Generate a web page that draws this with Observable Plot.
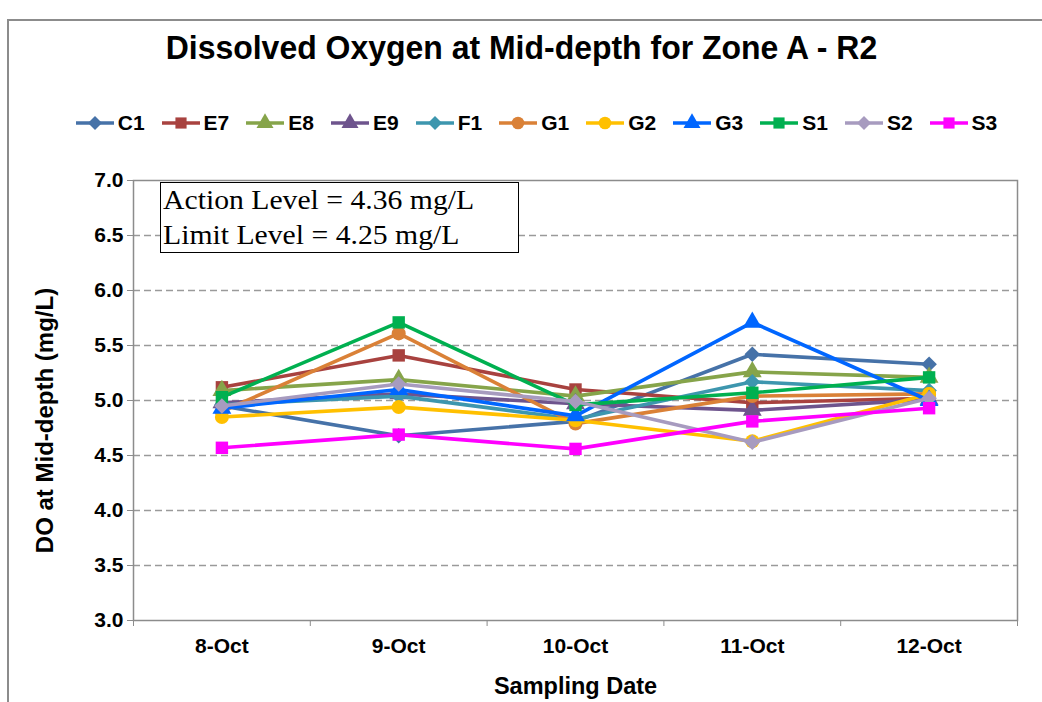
<!DOCTYPE html>
<html>
<head>
<meta charset="utf-8">
<script src="https://cdn.jsdelivr.net/npm/d3@7"></script>
<script src="https://cdn.jsdelivr.net/npm/@observablehq/plot@0.6"></script>
<style>
  html, body { margin: 0; padding: 0; background: #fff; }
  #wrap { position: relative; width: 1042px; height: 702px; overflow: hidden; background: #fff;
          font-family: "Liberation Sans", Arial, sans-serif; color: #000; }
  #outer { position: absolute; left: 7px; top: 19px; width: 1200px; height: 900px;
           border-left: 2px solid #8c8c8c; border-top: 2px solid #8c8c8c; pointer-events: none; }
  #title { height: 95px; line-height: 94px; text-align: center; font-size: 34px; font-weight: bold; }
  #title span { display: inline-block; transform: scaleX(0.94); transform-origin: center; }
  #legend { height: 55px; display: flex; align-items: center; justify-content: center; padding-left: 46px;
            font-size: 21px; font-weight: bold; }
  .item { display: flex; align-items: center; margin-right: 16px; }
  .item svg { margin-right: 3px; }
  #box { position: absolute; left: 160px; top: 182px; width: 359px; height: 71px; box-sizing: border-box;
         border: 1.5px solid #000; background: #fff; font-family: "Liberation Serif", "DejaVu Serif", serif;
         font-size: 27px; line-height: 35px; padding-left: 2px; padding-top: 0px; white-space: nowrap; }
  #box div { transform: scaleX(1.1); transform-origin: left center; }
</style>
</head>
<body>
<div id="wrap">
  <div id="title"><span></span></div>
  <div id="legend"></div>
  <div id="chart"></div>
  <div id="box"></div>
  <div id="outer"></div>
</div>
<script>
const titleText = "Dissolved Oxygen at Mid-depth for Zone A - R2";
const xLabel = "Sampling Date";
const yLabel = "DO at Mid-depth (mg/L)";
const boxLines = ["Action Level = 4.36 mg/L", "Limit Level = 4.25 mg/L"];

const dates = ["8-Oct", "9-Oct", "10-Oct", "11-Oct", "12-Oct"];
const seriesNames = ["C1", "E7", "E8", "E9", "F1", "G1", "G2", "G3", "S1", "S2", "S3"];
const C1 = [4.95, 4.68, 4.81, 5.42, 5.33];
const E7 = [5.12, 5.41, 5.10, 4.98, 5.02];
const E8 = [5.09, 5.19, 5.04, 5.26, 5.21];
const E9 = [4.98, 5.06, 4.97, 4.91, 5.01];
const F1 = [4.96, 5.04, 4.83, 5.17, 5.09];
const G1 = [4.90, 5.61, 4.79, 5.04, 5.06];
const G2 = [4.85, 4.94, 4.82, 4.63, 5.06];
const G3 = [4.93, 5.10, 4.86, 5.71, 5.00];
const S1 = [5.03, 5.71, 4.96, 5.07, 5.21];
const S2 = [4.95, 5.15, 4.99, 4.62, 5.02];
const S3 = [4.57, 4.69, 4.56, 4.81, 4.93];
const seriesValues = [C1, E7, E8, E9, F1, G1, G2, G3, S1, S2, S3];
const seriesColors = ["#4672A8", "#A8423F", "#86A44A", "#6E548D", "#3D96AE", "#DA8137",
                      "#FFC000", "#0066FF", "#00B050", "#A79BBF", "#FF00FF"];
const seriesSymbols = ["diamond2", "square", "triangle", "triangle", "diamond2", "circle",
                       "circle", "triangle", "square", "diamond2", "square"];
const yTicks = [3.0, 3.5, 4.0, 4.5, 5.0, 5.5, 6.0, 6.5, 7.0];
const yGrid = [3.5, 4.0, 4.5, 5.0, 5.5, 6.0, 6.5];

// title
document.querySelector("#title span").textContent = titleText;
// box
const box = document.getElementById("box");
boxLines.forEach(t => { const d = document.createElement("div"); d.textContent = t; box.appendChild(d); });

// legend
const legend = document.getElementById("legend");
const symGen = { diamond2: d3.symbolDiamond2, square: d3.symbolSquare, triangle: d3.symbolTriangle, circle: d3.symbolCircle };
seriesNames.forEach((s, i) => {
  const item = document.createElement("div");
  item.className = "item";
  const svg = d3.create("svg").attr("width", 40).attr("height", 20);
  svg.append("line").attr("x1", 1).attr("x2", 39).attr("y1", 10).attr("y2", 10)
     .attr("stroke", seriesColors[i]).attr("stroke-width", 3.5);
  svg.append("path").attr("transform", "translate(20,10)")
     .attr("d", d3.symbol(symGen[seriesSymbols[i]], Math.PI * 6.3 * 6.3)())
     .attr("fill", seriesColors[i]);
  item.appendChild(svg.node());
  const t = document.createElement("span");
  t.textContent = s;
  item.appendChild(t);
  legend.appendChild(item);
});

const rows = seriesNames.flatMap((s, i) => seriesValues[i].map((v, j) => ({ series: s, idx: j + 1, value: v })));

const seriesMarks = seriesNames.flatMap(s => {
  const d = rows.filter(r => r.series === s);
  return [
    Plot.line(d, { x: "idx", y: "value", stroke: "series", strokeWidth: 3.6 }),
    Plot.dot(d, { x: "idx", y: "value", fill: "series", symbol: "series", r: 7, stroke: "none" })
  ];
});

const chart = Plot.plot({
  width: 1042,
  height: 552,
  marginTop: 30,
  marginBottom: 82,
  marginLeft: 133,
  marginRight: 25,
  x: { type: "linear", domain: [0.5, 5.5], axis: null },
  y: { domain: [3, 7], axis: null },
  color: { domain: seriesNames, range: seriesColors },
  symbol: { domain: seriesNames, range: seriesSymbols },
  style: { fontFamily: "'Liberation Sans', Arial, sans-serif", fontWeight: "bold", fontSize: "20px", color: "#000", background: "#fff", overflow: "visible" },
  marks: [
    Plot.gridY(yGrid, { stroke: "#9a9a9a", strokeOpacity: 1, strokeWidth: 1.5, strokeDasharray: "7,4" }),
    Plot.frame({ stroke: "#8c8c8c", strokeWidth: 1.5 }),
    Plot.axisY(yTicks, { tickSize: 6, tickPadding: 4, tickFormat: d3.format(".1f"), stroke: "#8c8c8c", label: null, fontSize: 21, fill: "#000" }),
    Plot.axisX([0.5, 1.5, 2.5, 3.5, 4.5, 5.5], { tickSize: 6, tickFormat: () => "", stroke: "#8c8c8c", label: null }),
    Plot.axisX([1, 2, 3, 4, 5], { tickSize: 0, tickPadding: 18, tickFormat: i => dates[i - 1], label: null, fontSize: 21, fill: "#000" }),
    Plot.text([xLabel], { text: d => d, frameAnchor: "bottom", dy: 66, fontSize: 23.5, fontWeight: "bold", fill: "#000", lineAnchor: "middle" }),
    Plot.text([yLabel], { text: d => d, frameAnchor: "left", dx: -88, dy: 20, rotate: -90, textAnchor: "middle", lineAnchor: "middle", fontSize: 24, fontWeight: "bold", fill: "#000" }),
    ...seriesMarks
  ]
});
document.getElementById("chart").appendChild(chart);
</script>
</body>
</html>
